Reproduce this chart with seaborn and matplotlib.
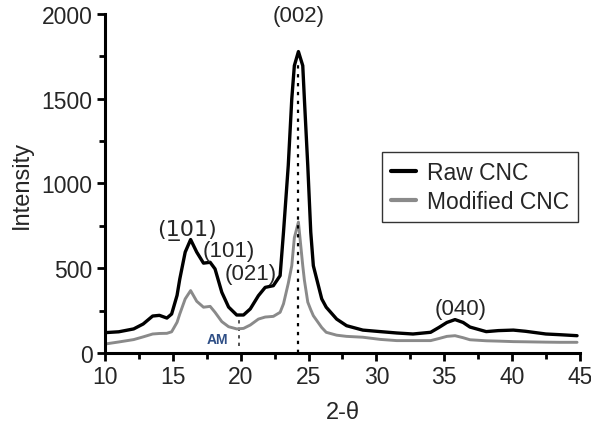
import matplotlib
matplotlib.use("Agg")
import matplotlib.pyplot as plt
from matplotlib.ticker import MultipleLocator
import numpy as np
import pandas as pd
import seaborn as sns

# XRD patterns (2-theta in degrees, intensity in counts)
two_theta = [10.0, 11.0, 12.1, 12.8, 13.5, 14.0, 14.55, 14.9, 15.3, 15.5, 15.9, 16.3,
             16.75, 17.25, 17.74, 18.1, 18.6, 19.1, 19.7, 20.2, 20.7, 21.3, 21.8, 22.4,
             22.9, 23.15, 23.5, 23.76, 23.95, 24.25, 24.57, 24.69, 24.94, 25.16, 25.35,
             25.97, 26.3, 27.07, 27.8, 29.0, 30.3, 31.5, 32.7, 34.0, 34.6, 35.2, 35.8,
             36.4, 36.9, 38.1, 39.0, 40.1, 41.0, 42.5, 43.5, 44.8]
raw_cnc = [120, 125, 142, 171, 218, 222, 206, 230, 340, 436, 595, 669,
           595, 530, 535, 496, 358, 271, 224, 224, 260, 338, 387, 397,
           456, 713, 1105, 1498, 1695, 1778, 1695, 1498, 1105, 713, 515,
           319, 270, 200, 161, 135, 126, 118, 112, 122, 150, 180, 197,
           180, 153, 126, 132, 135, 128, 112, 108, 102]
modified_cnc = [53, 65, 79, 95, 112, 115, 116, 125, 181, 230, 319, 368,
                305, 270, 275, 240, 185, 155, 142, 145, 165, 200, 212, 216,
                240, 290, 410, 515, 680, 772, 515, 430, 300, 255, 220,
                150, 122, 105, 98, 93, 80, 73, 73, 73, 85, 98, 102,
                90, 78, 72, 70, 67, 66, 64, 63, 63]
series_names = ["Raw CNC", "Modified CNC"]
series_colors = ["#000000", "#8a8a8a"]

# Miller-index annotations: (text, x, y)
peak_labels = [("(1\u0332" "01)", 16.0, 731), ("(101)", 19.1, 602),
               ("(021)", 20.7, 466), ("(002)", 24.3, 1990), ("(040)", 36.2, 260)]
crystalline_peak = 24.2
amorphous_x = 19.9

df = pd.DataFrame({
    "two_theta": two_theta * 2,
    "intensity": raw_cnc + modified_cnc,
    "sample": [series_names[0]] * len(two_theta) + [series_names[1]] * len(two_theta),
})

sns.set_style("ticks")
plt.rcParams["font.family"] = ["Liberation Sans", "DejaVu Sans"]

fig = plt.figure(figsize=(5.91, 4.27), dpi=100)
ax = fig.add_axes([0.178, 0.171, 0.803, 0.794])

for name, color, lw in zip(series_names, series_colors, [2.4, 2.1]):
    sub = df[df["sample"] == name]
    sns.lineplot(data=sub, x="two_theta", y="intensity", color=color, lw=lw,
                 label=name, sort=False, ax=ax, zorder=3 if name == "Raw CNC" else 2)

# Crystalline peak and amorphous minimum markers
ax.vlines(crystalline_peak, 0, 1700, colors="black", linestyles=(0, (1.5, 2.5)), lw=1.6, zorder=4)
ax.vlines(amorphous_x, 40, 225, colors="#333333", linestyles=(0, (2, 2.5)), lw=1.2, zorder=1)
ax.text(18.3, 83, "AM", color="#2f4f86", fontsize=10, fontweight="bold",
        ha="center", va="center")

for text, x, y in peak_labels:
    ax.text(x, y, text, fontsize=16, ha="center", va="center", clip_on=False, zorder=5,
            family=["DejaVu Sans"] if "\u0332" in text else None)

ax.set_xlim(10, 45)
ax.set_ylim(0, 2000)
ax.xaxis.set_major_locator(MultipleLocator(5))
ax.xaxis.set_minor_locator(MultipleLocator(2.5))
ax.yaxis.set_major_locator(MultipleLocator(500))
ax.yaxis.set_minor_locator(MultipleLocator(250))
ax.tick_params(which="major", length=6, width=2, labelsize=16.5, color="black", pad=3)
ax.tick_params(which="minor", length=4, width=2, color="black")
for side in ["left", "bottom"]:
    ax.spines[side].set_linewidth(2.2)
    ax.spines[side].set_color("black")
sns.despine(ax=ax)

ax.set_xlabel("2-\u03b8", fontsize=17, labelpad=9)
ax.set_ylabel("Intensity", fontsize=17, labelpad=6)

leg = ax.legend(loc="upper right", bbox_to_anchor=(0.996, 0.593), fontsize=16.5,
                frameon=True, fancybox=False, edgecolor="black", handlelength=1.1,
                handletextpad=0.45, borderpad=0.4, labelspacing=0.25, borderaxespad=0)
leg.get_frame().set_linewidth(1.0)
for line in leg.get_lines():
    line.set_linewidth(3)

fig.savefig("out.png", dpi=100)
